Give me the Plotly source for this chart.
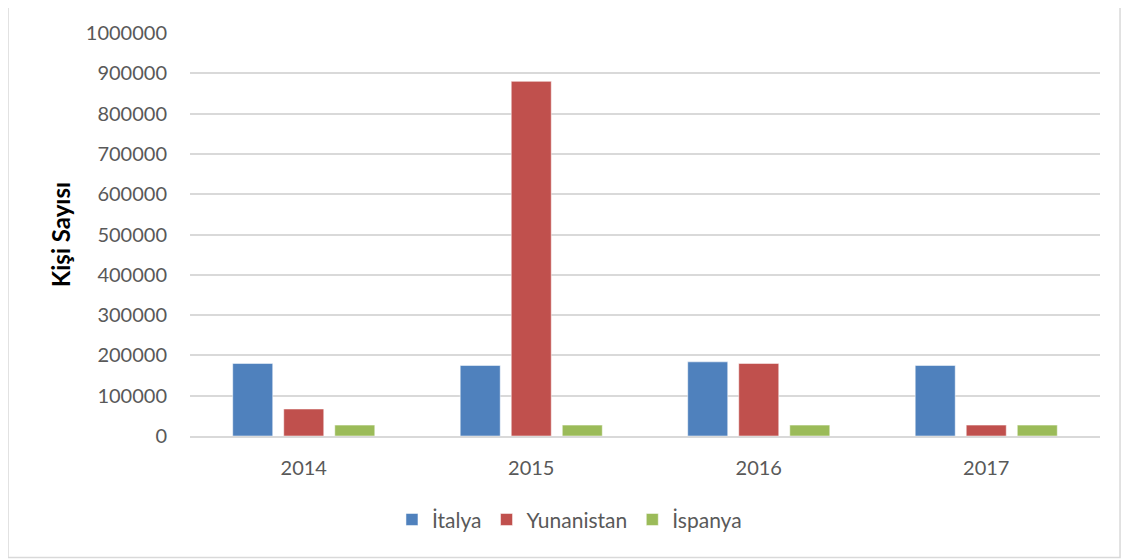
import plotly.graph_objects as go

years = ["2014", "2015", "2016", "2017"]
italya = [180000, 175000, 184000, 175000]
yunanistan = [67000, 880000, 180000, 27000]
ispanya = [27000, 27000, 27000, 27000]

series = [("İtalya", italya, "#4F81BD"), ("Yunanistan", yunanistan, "#C0504D"), ("İspanya", ispanya, "#9BBB59")]

fig = go.Figure()
for name, vals, col in series:
    fig.add_trace(go.Bar(x=years, y=vals, name=name, marker=dict(color=col, line=dict(color="rgba(255,255,255,0.5)", width=1))))

fig.update_layout(
    width=1132, height=560,
    margin=dict(l=182, r=40, t=20, b=132),
    paper_bgcolor="white", plot_bgcolor="white",
    barmode="group", bargap=0.327, bargroupgap=0.216,
    font=dict(family="Lato, Open Sans, sans-serif", size=20, color="#595959"),
    showlegend=True,
    legend=dict(orientation="h", x=0.417, xanchor="center", y=-0.208, yanchor="middle",
                font=dict(size=21, color="#595959"), itemwidth=30, traceorder="normal"),
    xaxis=dict(showgrid=False, showline=True, linecolor="#D9D9D9", linewidth=1.5,
               ticks="", ticklabelstandoff=13, tickfont=dict(size=20, color="#595959")),
    yaxis=dict(range=[0, 1000000], dtick=100000, tickformat="d", showgrid=True,
               gridcolor="#D9D9D9", gridwidth=1.5, zeroline=False, showline=False,
               ticklabelstandoff=22, tickfont=dict(size=20, color="#595959"),
               title=dict(text="<b>Kişi Sayısı</b>", font=dict(size=24, color="black"), standoff=8)),
)

fig.add_shape(type="rect", xref="paper", yref="paper", x0=-0.2, x1=1.022, y0=-0.3015, y1=1.2,
              line=dict(color="#D9D9D9", width=1.5), fillcolor="rgba(0,0,0,0)", layer="below")

fig.write_html("out.html")
